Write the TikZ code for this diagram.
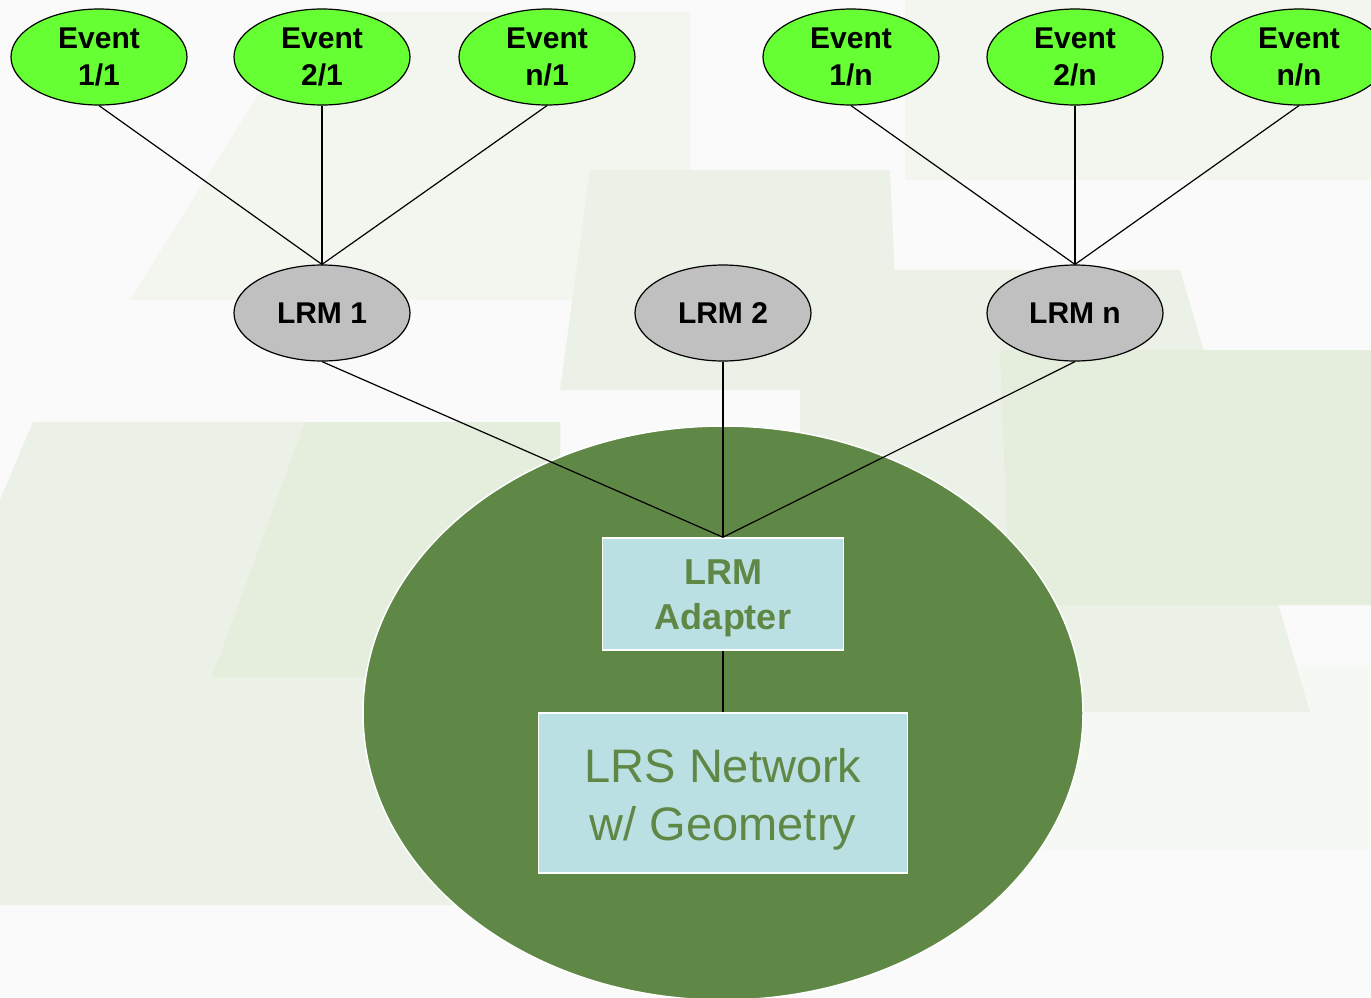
\documentclass[tikz,border=0pt]{standalone}
\usepackage{fontspec}
\setmainfont{Liberation Sans}
\usetikzlibrary{shapes.geometric}
\definecolor{eventgreen}{HTML}{66FF33}
\definecolor{lrmgray}{HTML}{C0C0C0}
\definecolor{leaf}{HTML}{5F8745}
\definecolor{paleblue}{HTML}{BBE0E3}
\definecolor{bgA}{HTML}{F3F6EF}
\definecolor{bgB}{HTML}{EBF1E6}
\definecolor{bgC}{HTML}{E5EDDD}
\definecolor{bgD}{HTML}{F6F8F3}

\begin{document}
\begin{tikzpicture}[x=1pt, y=-1pt,
    event/.style={ellipse, draw, line width=1.2pt, fill=eventgreen, minimum width=176pt, minimum height=96pt, inner sep=0pt, align=center, font=\fontsize{30}{37}\selectfont\bfseries},
    lrm/.style={ellipse, draw, line width=1.2pt, fill=lrmgray, minimum width=176pt, minimum height=96pt, inner sep=0pt, font=\fontsize{30}{37}\selectfont\bfseries},
    box/.style={rectangle, draw=white, line width=1.5pt, fill=paleblue, inner sep=0pt, align=center, text=leaf},
    link/.style={draw, line width=1.2pt}]
    \useasboundingbox (0,0) rectangle (1371,997);
    \clip (0,0) rectangle (1371,997);
    % faint map in the background
    \fill[white!98!black] (0,0) rectangle (1371,997);
    \fill[bgA] (310,12) -- (690,12) -- (690,300) -- (130,300) -- cycle;
    \fill[bgA] (905,0) -- (1371,0) -- (1371,180) -- (905,180) -- cycle;
    \fill[bgB] (590,170) -- (890,170) -- (900,390) -- (560,390) -- cycle;
    \fill[bgD] (800,665) -- (1371,665) -- (1371,850) -- (800,850) -- cycle;
    \fill[bgB] (800,270) -- (1180,270) -- (1310,712) -- (800,712) -- cycle;
    \fill[bgC] (1000,350) -- (1371,350) -- (1371,605) -- (1010,605) -- cycle;
    \fill[bgB] (33,422) -- (560,422) -- (560,905) -- (0,905) -- (0,500) -- cycle;
    \fill[bgC] (305,422) -- (560,422) -- (560,677) -- (212,677) -- cycle;
    % network
    \fill[leaf, draw=white, line width=1.5pt] (723,713) ellipse [x radius=360, y radius=287];

    \node[event] (e11) at (99,57) {Event\\1/1};
    \node[event] (e21) at (322,57) {Event\\2/1};
    \node[event] (en1) at (547,57) {Event\\n/1};
    \node[event] (e1n) at (851,57) {Event\\1/n};
    \node[event] (e2n) at (1075,57) {Event\\2/n};
    \node[event] (enn) at (1299,57) {Event\\n/n};

    \node[lrm] (lrm1) at (322,313) {LRM 1};
    \node[lrm] (lrm2) at (723,313) {LRM 2};
    \node[lrm] (lrmn) at (1075,313) {LRM n};

    \node[box, minimum width=241pt, minimum height=112pt, font=\fontsize{36}{45}\selectfont\bfseries] (adapter) at (723,594) {\rule{0pt}{34pt}LRM\\Adapter};
    \node[box, minimum width=369pt, minimum height=160pt, font=\fontsize{47}{58}\selectfont] (lrs) at (723,793) {\rule{0pt}{46pt}LRS Network\\w/ Geometry};

    \foreach \e in {e11,e21,en1} \path[link] (\e.south) -- (lrm1.north);
    \foreach \e in {e1n,e2n,enn} \path[link] (\e.south) -- (lrmn.north);
    \foreach \l in {lrm1,lrm2,lrmn} \path[link] (\l.south) -- (adapter.north);
    \path[link, line width=2pt] (adapter.south) -- (lrs.north);
\end{tikzpicture}
\end{document}
